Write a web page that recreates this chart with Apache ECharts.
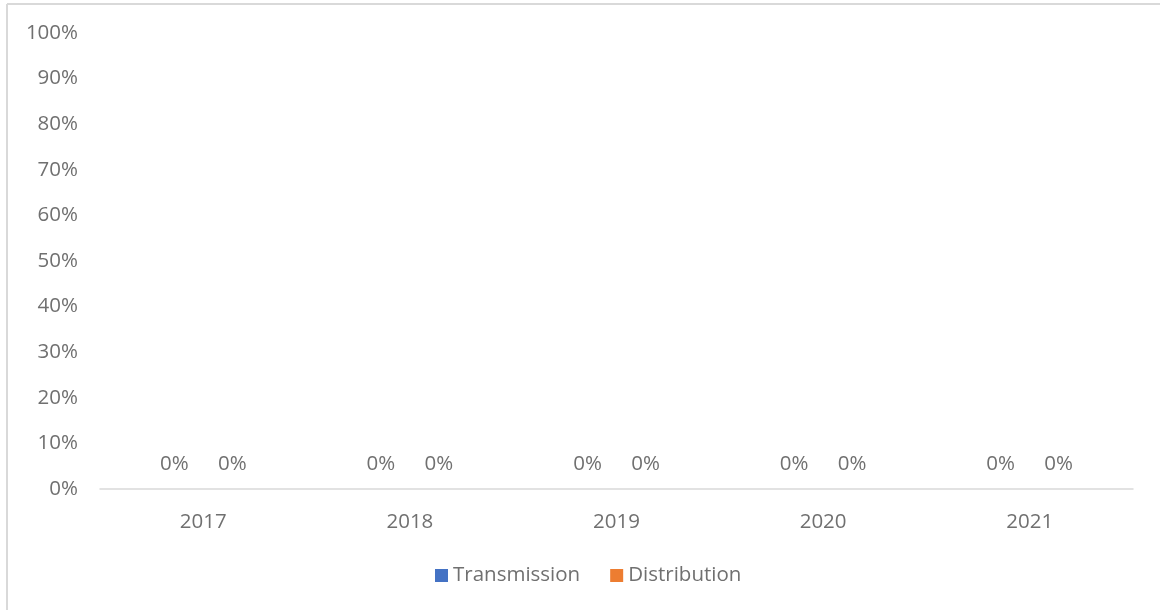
<!DOCTYPE html>
<html>
<head>
<meta charset="utf-8">
<script src="https://cdn.jsdelivr.net/npm/echarts@6/dist/echarts.min.js"></script>
<style>
  html, body { margin: 0; padding: 0; background: #fff; }
  #chart { width: 1160px; height: 610px; }
</style>
</head>
<body>
<div id="chart"></div>
<script>
// Share of outages by network segment, per year
const years = ['2017', '2018', '2019', '2020', '2021'];
const transmission = [0, 0, 0, 0, 0];
const distribution = [0, 0, 0, 0, 0];

const textColor = '#707070';
const lineColor = '#d9d9d9';
const font = '"Open Sans", Lato, sans-serif';
const fontSize = 20.5;
const pct = v => Math.round(v * 100) + '%';

const chart = echarts.init(document.getElementById('chart'), null, { renderer: 'canvas' });

const labelStyle = {
  show: true,
  position: 'top',
  distance: 14,
  color: textColor,
  fontFamily: font,
  fontSize: fontSize,
  formatter: p => pct(p.value)
};

chart.setOption({
  animation: false,
  textStyle: { fontFamily: font },
  graphic: [
    { type: 'line', shape: { x1: 7, y1: 4, x2: 1160, y2: 4 }, style: { stroke: lineColor, lineWidth: 2 } },
    { type: 'line', shape: { x1: 7, y1: 4, x2: 7, y2: 610 }, style: { stroke: lineColor, lineWidth: 2 } }
  ],
  grid: { left: 100, right: 27, top: 33, bottom: 121, containLabel: false },
  legend: {
    left: 435,
    top: 565,
    padding: 0,
    itemWidth: 13,
    itemHeight: 13,
    itemGap: 30,
    icon: 'rect',
    textStyle: { color: textColor, fontSize: fontSize, fontFamily: font },
    data: ['Transmission', 'Distribution']
  },
  xAxis: {
    type: 'category',
    data: years,
    axisLine: { lineStyle: { color: lineColor, width: 1.5 } },
    axisTick: { show: false },
    axisLabel: { color: textColor, fontSize: fontSize, fontFamily: font, margin: 23 }
  },
  yAxis: {
    type: 'value',
    min: 0,
    max: 1,
    interval: 0.1,
    splitLine: { show: false },
    axisLine: { show: false },
    axisTick: { show: false },
    axisLabel: { color: textColor, fontSize: fontSize, fontFamily: font, margin: 22, formatter: pct }
  },
  series: [
    {
      name: 'Transmission',
      type: 'bar',
      data: transmission,
      itemStyle: { color: '#4472C4' },
      barWidth: 58,
      barGap: '0%',
      label: labelStyle
    },
    {
      name: 'Distribution',
      type: 'bar',
      data: distribution,
      itemStyle: { color: '#ED7D31' },
      barWidth: 58,
      barGap: '0%',
      label: labelStyle
    }
  ]
});
</script>
</body>
</html>
